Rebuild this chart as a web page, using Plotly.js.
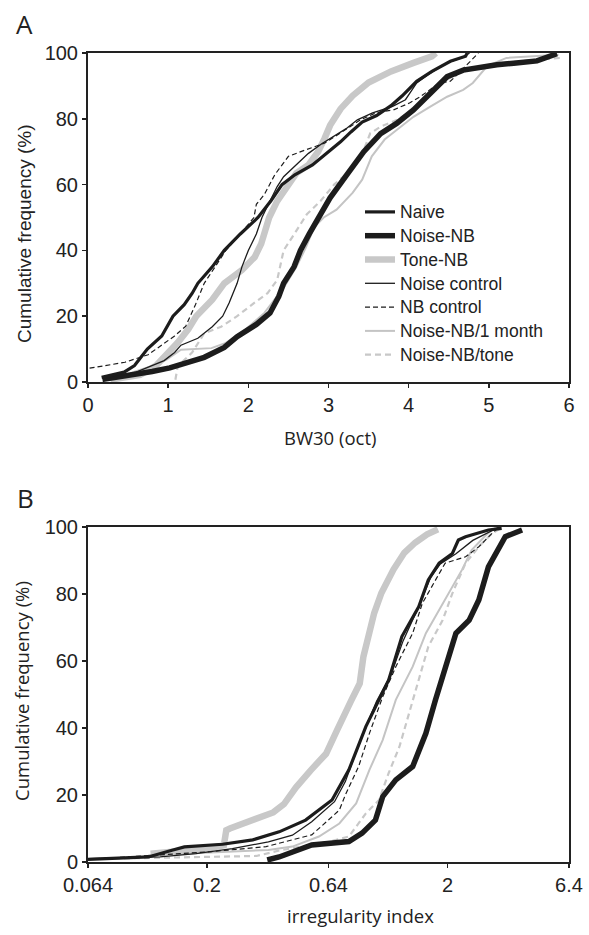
<!DOCTYPE html>
<html>
<head>
<meta charset="utf-8">
<script src="https://cdn.plot.ly/plotly-3.0.1.min.js"></script>
<style>html,body{margin:0;padding:0;background:#fff;}#chart{width:589px;height:935px;}</style>
</head>
<body>
<div id="chart"></div>
<script>
// ---------- Series names (legend order) ----------
const seriesNames = ["Naive", "Noise-NB", "Tone-NB", "Noise control", "NB control", "Noise-NB/1 month", "Noise-NB/tone"];

// ---------- Panel A: BW30 (oct) vs cumulative frequency (%) ----------
const aNaiveX = [0.17,0.45,0.58,0.74,0.92,1.06,1.2,1.3,1.37,1.55,1.7,1.9,2.12,2.28,2.42,2.58,2.8,3.0,3.15,3.28,3.42,3.6,3.78,3.92,4.1,4.29,4.52,4.71,4.73];
const aNaiveY = [1.4,3,5,10,14,20,23.5,27,30,35,40,45,50,55,60,63,66,70,73,76,79,81,84,87,91.4,94.4,97.5,99,100];

const aNoiseNBX = [0.18,0.45,0.8,1.02,1.2,1.45,1.7,1.86,2.1,2.27,2.38,2.44,2.57,2.65,2.76,2.88,3.02,3.23,3.44,3.65,3.85,4.06,4.27,4.48,4.68,4.89,5.1,5.31,5.6,5.85];
const aNoiseNBY = [0.8,1.7,3.2,4.3,5.5,7.5,10.5,13.8,17.5,21,26,30,35,40,45,50,56,63,70,75.5,78.6,82.7,87.7,92.8,94.8,95.8,96.4,96.9,97.6,99.8];

const aToneNBX = [0.28,0.65,0.85,0.97,1.12,1.25,1.35,1.55,1.7,1.92,2.08,2.16,2.22,2.26,2.36,2.49,2.6,2.75,2.87,2.95,3.02,3.15,3.3,3.5,3.78,4.06,4.29,4.34];
const aToneNBY = [0.7,2.2,5,8,12,16,20,25,30,34,38,42,46,50,55,60,63.5,66,70,74,78,83,87,91,94.4,97,99,100];

const aNoiseCtrlX = [0.25,0.6,0.95,1.08,1.16,1.37,1.55,1.68,1.76,1.86,1.92,2.0,2.1,2.17,2.27,2.36,2.44,2.57,2.75,2.92,3.08,3.22,3.36,3.55,3.8,3.96,4.1,4.24,4.48,4.66,4.76];
const aNoiseCtrlY = [1,3,6.5,9,11.2,13.3,16.8,20,24,30,35,40,45,50,55,59.4,62.4,65.5,69.5,72.5,75,77,79.7,81.8,83.8,85.8,90.9,93.4,97,98.5,100];

const aNBCtrlX = [0.02,0.46,0.75,0.9,1.08,1.22,1.28,1.34,1.45,1.58,1.72,1.9,2.07,2.1,2.2,2.33,2.5,2.72,2.95,3.15,3.4,3.59,3.82,4.01,4.15,4.38,4.52,4.71,4.87];
const aNBCtrlY = [4.2,6,8.3,10.8,14,17,20,23.5,30,35,40,45,50,54,57,63,68.6,70.6,72.6,75.7,79.7,81.8,82.8,84.8,86.8,90.9,91.4,96,100];

const aMonthX = [0.28,0.79,0.98,1.16,1.54,1.72,1.96,2.2,2.45,2.6,2.72,2.82,2.94,3.1,3.3,3.42,3.54,3.7,3.85,4.06,4.27,4.48,4.68,4.8,4.98,5.22,5.87];
const aMonthY = [0.7,4.8,6.8,9.8,10.3,11.9,15.9,21,29,35,41,47,50,52.4,57.5,61.5,68.6,73.7,76.6,80.6,83.7,86.7,88.8,90.9,96,98.5,99.5];

const aToneRetX = [1.09,1.12,1.3,1.45,1.66,1.86,2.07,2.24,2.36,2.44,2.6,2.73,2.9,3.07,3.23,3.44,3.52,3.65,3.85,4.06,4.27,4.48,4.68,4.9,5.2,5.6,5.9];
const aToneRetY = [0.7,4.8,9,14.8,16.8,20,24,27,31,40,46,51,55,60,63.4,70.5,75.6,77.6,79.6,82.7,87.7,92,94.5,96,97,98,98.5];

// ---------- Panel B: irregularity index (log) vs cumulative frequency (%) ----------
const bNaiveX = [0.064,0.114,0.143,0.161,0.232,0.310,0.399,0.514,0.662,0.710,0.778,0.915,1.003,1.138,1.292,1.518,1.664,1.846,2.095,2.219,2.378,2.959,3.359];
const bNaiveY = [0.8,1.5,3.5,4.5,5.3,6.6,9,12.5,18.5,22.5,27.5,40.4,46.4,54.3,67.3,76.2,84.2,89.2,92.1,96.1,97.1,99.1,99.6];

const bNoiseNBX = [0.356,0.399,0.545,0.778,0.883,1.003,1.075,1.219,1.433,1.626,1.783,1.955,2.168,2.461,2.699,2.959,3.282,3.477,4.085];
const bNoiseNBY = [0.6,1.5,5.1,6.1,8.6,12.5,19.5,24.5,28.5,38.4,48.4,58.3,68.3,72.2,78.2,88.1,94.1,97.1,99.1];

const bToneNBX = [0.1165,0.152,0.202,0.235,0.2405,0.249,0.2926,0.377,0.418,0.469,0.5385,0.625,0.694,0.743,0.797,0.863,0.894,0.991,1.062,1.192,1.322,1.466,1.645,1.825];
const bToneNBY = [2.5,3.2,4.0,5.0,9.5,10.0,12,14.8,17.3,22.3,27.3,32.3,39.3,44.3,48.3,53.3,61.3,74.3,80.3,87.3,92.3,95.3,97.8,99.3];

const bNoiseCtrlX = [0.064,0.1277,0.180,0.255,0.360,0.453,0.545,0.678,0.752,0.806,0.936,1.014,1.165,1.307,1.535,1.703,1.867,2.168,2.548,3.063,3.282];
const bNoiseCtrlY = [1.0,1.5,2.5,4,6,8,12,18,24,30,42,48,56,66,77,85,89,92,96,99,100];

const bNBCtrlX = [0.064,0.131,0.209,0.352,0.545,0.662,0.710,0.752,0.854,0.947,1.075,1.219,1.433,1.571,1.783,1.955,2.378,2.699,3.063,3.282];
const bNBCtrlY = [0.8,2.1,3.1,4.6,8.1,13.5,15.5,20,28.5,38.4,49.3,58.3,68.3,77.2,84.2,89.2,91.1,94.1,98.1,100];

const bMonthX = [0.114,0.255,0.360,0.453,0.584,0.710,0.834,0.947,1.075,1.219,1.433,1.626,1.846,2.095,2.297,2.519,2.892,3.063,3.208];
const bMonthY = [2,3,3.6,4.6,7.6,11.5,17.5,27.5,36.4,48.4,58.3,68.3,75.2,82.2,87.2,93.1,97.6,99.1,100];

const bToneRetX = [0.0678,0.161,0.321,0.404,0.532,0.640,0.778,0.915,1.038,1.138,1.262,1.384,1.518,1.664,1.910,2.095,2.378,2.699,3.063,3.398];
const bToneRetY = [0.9,1.3,1.8,3.5,5.1,6,7.6,14.5,18.5,26.5,34.4,44.4,54.3,64.3,72.2,80.2,89.2,94.1,98.1,100];

// ---------- Axis ticks ----------
const aXTicks = [0,1,2,3,4,5,6];
const yTicks = [0,20,40,60,80,100];
const bXTickVals = [0.064,0.2,0.64,2,6.4];
const bXTickText = ["0.064","0.2","0.64","2","6.4"];

// ---------- Styles ----------
const styles = {
  "Naive":            {color:"#1c1c1c", width:3.2, dash:"solid"},
  "Noise-NB":         {color:"#1c1c1c", width:5.5, dash:"solid"},
  "Tone-NB":          {color:"#c8c8c8", width:6.5, dash:"solid"},
  "Noise control":    {color:"#1c1c1c", width:1.3, dash:"solid"},
  "NB control":       {color:"#1c1c1c", width:1.2, dash:"5px,3px"},
  "Noise-NB/1 month": {color:"#c4c4c4", width:2.0, dash:"solid"},
  "Noise-NB/tone":    {color:"#c8c8c8", width:2.2, dash:"6px,4px"}
};
const dataA = {
  "Naive":[aNaiveX,aNaiveY], "Noise-NB":[aNoiseNBX,aNoiseNBY], "Tone-NB":[aToneNBX,aToneNBY],
  "Noise control":[aNoiseCtrlX,aNoiseCtrlY], "NB control":[aNBCtrlX,aNBCtrlY],
  "Noise-NB/1 month":[aMonthX,aMonthY], "Noise-NB/tone":[aToneRetX,aToneRetY]
};
const dataB = {
  "Naive":[bNaiveX,bNaiveY], "Noise-NB":[bNoiseNBX,bNoiseNBY], "Tone-NB":[bToneNBX,bToneNBY],
  "Noise control":[bNoiseCtrlX,bNoiseCtrlY], "NB control":[bNBCtrlX,bNBCtrlY],
  "Noise-NB/1 month":[bMonthX,bMonthY], "Noise-NB/tone":[bToneRetX,bToneRetY]
};
const drawOrder = ["Tone-NB","Noise-NB/1 month","Noise-NB/tone","Noise-NB","NB control","Noise control","Naive"];

const traces = [];
drawOrder.forEach(name => {
  const s = styles[name];
  const rank = seriesNames.indexOf(name) + 1;
  traces.push({type:"scatter", mode:"lines", name:'<span style="font-size:17.5px">' + name + '</span>',
    x:dataA[name][0], y:dataA[name][1],
    xaxis:"x", yaxis:"y", line:{color:s.color, width:s.width, dash:s.dash}, legendrank:rank,
    showlegend:true, hoverinfo:"skip"});
});
drawOrder.forEach(name => {
  const s = styles[name];
  traces.push({type:"scatter", mode:"lines", name:name, x:dataB[name][0], y:dataB[name][1],
    xaxis:"x2", yaxis:"y2", line:{color:s.color, width:s.width, dash:s.dash},
    showlegend:false, hoverinfo:"skip"});
});

const tickFont = {family:"Liberation Sans, Arial, sans-serif", size:20, color:"#222"};
const axisCommon = {showline:true, linecolor:"#222", linewidth:2, mirror:true, ticks:"outside",
  ticklen:4, tickwidth:1.5, tickcolor:"#222", showgrid:false, zeroline:false, tickfont:tickFont};

const L = 88, W = 481, T = 53, H = 809;
const px = v => (v - L) / W;
const py = v => (862 - v) / H;

const layout = {
  width:589, height:935,
  margin:{l:L, r:589-L-W, t:T, b:935-T-H},
  paper_bgcolor:"#fff", plot_bgcolor:"#fff",
  font:{family:"Liberation Sans, Arial, sans-serif", color:"#222"},
  xaxis:Object.assign({}, axisCommon, {domain:[0,1], anchor:"y", range:[0,6], tickvals:aXTicks}),
  yaxis:Object.assign({}, axisCommon, {domain:[0.5933,1], anchor:"x", range:[0,100], tickvals:yTicks}),
  xaxis2:Object.assign({}, axisCommon, {domain:[0,1], anchor:"y2", type:"log",
    range:[Math.log10(0.064), Math.log10(6.4)], tickvals:bXTickVals, ticktext:bXTickText}),
  yaxis2:Object.assign({}, axisCommon, {domain:[0,0.4141], anchor:"x2", range:[0,100], tickvals:yTicks}),
  showlegend:true,
  legend:{x:px(360), y:py(195), xanchor:"left", yanchor:"top", bgcolor:"rgba(0,0,0,0)",
    borderwidth:0, tracegroupgap:0, traceorder:"normal",
    font:{family:"Liberation Sans, Arial, sans-serif", size:16, color:"#222"}},
  annotations:[
    {text:"A", xref:"paper", yref:"paper", x:px(14), y:py(24), xanchor:"left", yanchor:"middle",
      showarrow:false, font:{family:"Open Sans, sans-serif", size:26, color:"#222"}},
    {text:"B", xref:"paper", yref:"paper", x:px(15), y:py(498), xanchor:"left", yanchor:"middle",
      showarrow:false, font:{family:"Open Sans, sans-serif", size:26, color:"#222"}},
    {text:"Cumulative frequency (%)", xref:"paper", yref:"paper", x:px(24), y:py(234), textangle:-90,
      xanchor:"center", yanchor:"middle", showarrow:false,
      font:{family:"Liberation Sans, Arial, sans-serif", size:19, color:"#222"}},
    {text:"Cumulative frequency (%)", xref:"paper", yref:"paper", x:px(21), y:py(691), textangle:-90,
      xanchor:"center", yanchor:"middle", showarrow:false,
      font:{family:"Open Sans, sans-serif", size:18.5, color:"#222"}},
    {text:"BW30 (oct)", xref:"paper", yref:"paper", x:px(330), y:py(438),
      xanchor:"center", yanchor:"middle", showarrow:false,
      font:{family:"Open Sans, sans-serif", size:18.5, color:"#222"}},
    {text:"irregularity index", xref:"paper", yref:"paper", x:px(360), y:py(915),
      xanchor:"center", yanchor:"middle", showarrow:false,
      font:{family:"Open Sans, sans-serif", size:18.5, color:"#222"}}
  ]
};

Plotly.newPlot("chart", traces, layout, {displayModeBar:false, staticPlot:true});
</script>
</body>
</html>
